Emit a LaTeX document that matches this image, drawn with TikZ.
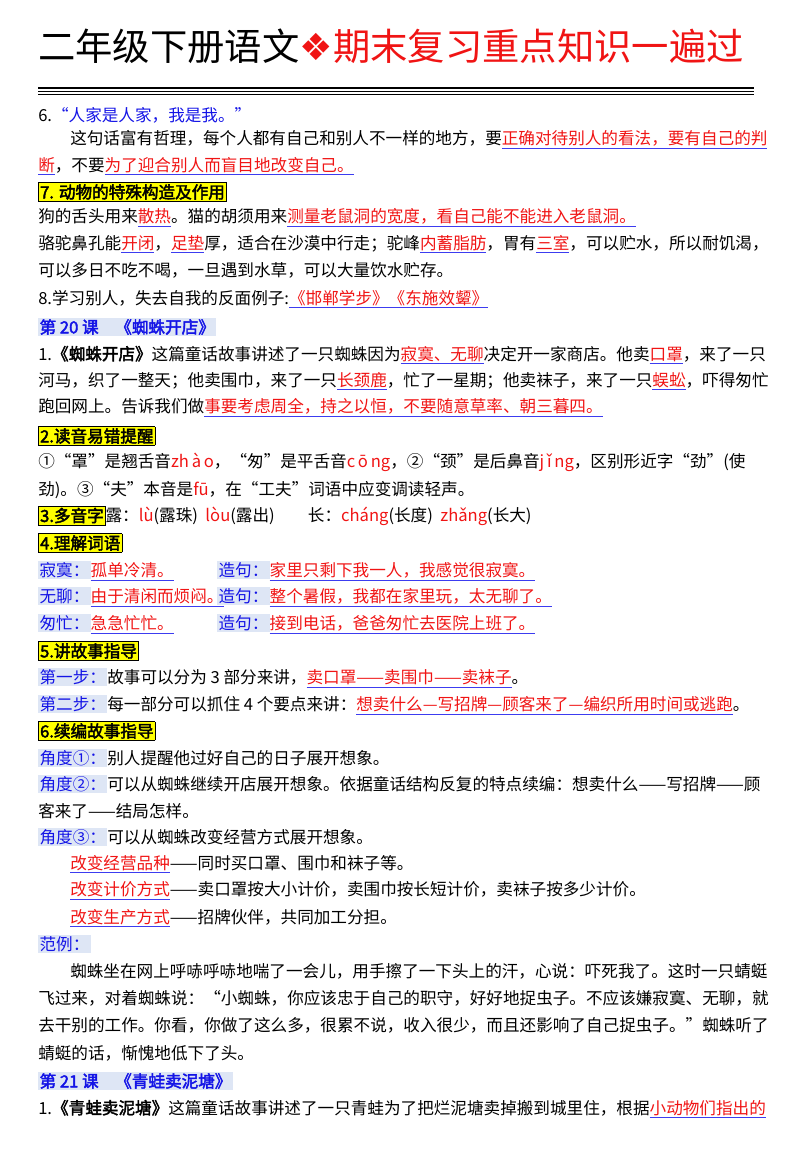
\documentclass[tikz,border=0pt]{standalone}
\usepackage{fontspec}
\setmainfont{Noto Sans CJK SC}[AutoFakeBold=2.5]
\newfontfamily\symf{DejaVu Sans}
\definecolor{ulblue}{RGB}{60,60,240}
\definecolor{tblue}{RGB}{20,20,230}
\definecolor{tred}{RGB}{240,20,20}
\definecolor{lbg}{RGB}{222,230,245}
\definecolor{ybg}{RGB}{255,255,0}
\newcommand\hl[1]{\textcolor{ulblue}{\underline{\textcolor{tred}{#1}}}}
\newcommand\rd[1]{\textcolor{tred}{#1}}
\newcommand\bl[1]{\textcolor{tblue}{#1}}
\newcommand\yb[1]{{\setlength\fboxsep{1pt}\fcolorbox{black}{ybg}{\bfseries #1}}}
\newcommand\lb[1]{{\setlength\fboxsep{1pt}\colorbox{lbg}{\textcolor{tblue}{#1}}}}
\tikzset{ln/.style={anchor=west,inner sep=0pt,font=\fontsize{12.45pt}{15pt}\selectfont}}
\begin{document}
\begin{tikzpicture}[x=0.75pt,y=-0.75pt]
\useasboundingbox (0,0) rectangle (800,1159);
\node[anchor=west,inner sep=0pt,font=\fontsize{28pt}{32pt}\selectfont] (title) at (38,46) {二年级下册语文\textcolor{tred}{\symf ❖}\rd{期末复习重点知识一遍过}};
\coordinate (tl) at (38,88); \coordinate (tr) at (754,88);
\draw[line width=1.8pt] (tl) -- (tr);
\draw[line width=0.8pt] ([yshift=-2.6pt]tl) -- ([yshift=-2.6pt]tr);
\draw[line width=0.8pt] ([yshift=-4.6pt]tl) -- ([yshift=-4.6pt]tr);
\node[ln] (a1) at (38,115) {6.\bl{“人家是人家，我是我。”}};
\node[ln] (a2) at (70,140) {这句话富有哲理，每个人都有自己和别人不一样的地方，要\hl{正确对待别人的看法，要有自己的判}};
\node[ln] (a3) at (38,166) {\hl{断}，不要\hl{为了迎合别人而盲目地改变自己。}};
\node[ln] (a4) at (38,192) {\yb{7. 动物的特殊构造及作用}};
\node[ln] (a5) at (38,218) {狗的舌头用来\hl{散热}。猫的胡须用来\hl{测量老鼠洞的宽度，看自己能不能进入老鼠洞。}};
\node[ln] (a6) at (38,244) {骆驼鼻孔能\hl{开闭}，\hl{足垫}厚，适合在沙漠中行走；驼峰\hl{内蓄脂肪}，胃有\hl{三室}，可以贮水，所以耐饥渴，};
\node[ln] (a7) at (38,270) {可以多日不吃不喝，一旦遇到水草，可以大量饮水贮存。};
\node[ln] (a8) at (38,299) {8.学习别人，失去自我的反面例子:\hl{《邯郸学步》《东施效颦》}};
\node[ln] (a9) at (38,327) {\lb{\bfseries 第 20 课\quad《蜘蛛开店》}};
\node[ln] (b1) at (38,355) {1.\textbf{《蜘蛛开店》}这篇童话故事讲述了一只蜘蛛因为\hl{寂寞、无聊}决定开一家商店。他卖\hl{口罩}，来了一只};
\node[ln] (b2) at (38,381) {河马，织了一整天；他卖围巾，来了一只\hl{长颈鹿}，忙了一星期；他卖袜子，来了一只\hl{蜈蚣}，吓得匆忙};
\node[ln] (b3) at (38,408) {跑回网上。告诉我们做\hl{事要考虑周全，持之以恒，不要随意草率、朝三暮四。}};
\node[ln] (b4) at (38,436) {\yb{2.读音易错提醒}};
\node[ln] (b5) at (38,462) {①“罩”是翘舌音\rd{zh\,à\,o}，“匆”是平舌音\rd{c\,ō\,ng}，②“颈”是后鼻音\rd{j\,ǐ\,ng}，区别形近字“劲”(使};
\node[ln] (b6) at (38,490) {劲)。③“夫”本音是\rd{fū}，在“工夫”词语中应变调读轻声。};
\node[ln] (b7) at (38,516) {\yb{3.多音字}露：\rd{lù}(露珠)\ \ \rd{lòu}(露出)\qquad 长：\rd{cháng}(长度)\ \ \rd{zhǎng}(长大)};
\node[ln] (b8) at (38,543) {\yb{4.理解词语}};
\node[ln] (c1) at (38,571) {\lb{寂寞：}\hl{孤单冷清。}};
\node[ln] (c2) at (217,571) {\lb{造句：}\hl{家里只剩下我一人，我感觉很寂寞。}};
\node[ln] (c3) at (38,597) {\lb{无聊：}\hl{由于清闲而烦闷。}};
\node[ln] (c4) at (217,597) {\lb{造句：}\hl{整个暑假，我都在家里玩，太无聊了。}};
\node[ln] (c5) at (38,624) {\lb{匆忙：}\hl{急急忙忙。}};
\node[ln] (c6) at (217,624) {\lb{造句：}\hl{接到电话，爸爸匆忙去医院上班了。}};
\node[ln] (c7) at (38,651) {\yb{5.讲故事指导}};
\node[ln] (c8) at (38,678) {\lb{第一步：}故事可以分为 3 部分来讲，\hl{卖口罩——卖围巾——卖袜子}。};
\node[ln] (c9) at (38,705) {\lb{第二步：}每一部分可以抓住 4 个要点来讲：\hl{想卖什么—写招牌—顾客来了—编织所用时间或逃跑}。};
\node[ln] (d1) at (38,731) {\yb{6.续编故事指导}};
\node[ln] (d2) at (38,758) {\lb{角度①：}别人提醒他过好自己的日子展开想象。};
\node[ln] (d3) at (38,784) {\lb{角度②：}可以从蜘蛛继续开店展开想象。依据童话结构反复的特点续编：想卖什么——写招牌——顾};
\node[ln] (d4) at (38,811) {客来了——结局怎样。};
\node[ln] (d5) at (38,837) {\lb{角度③：}可以从蜘蛛改变经营方式展开想象。};
\node[ln] (d6) at (70,864) {\hl{改变经营品种}——同时买口罩、围巾和袜子等。};
\node[ln] (d7) at (70,891) {\hl{改变计价方式}——卖口罩按大小计价，卖围巾按长短计价，卖袜子按多少计价。};
\node[ln] (d8) at (70,918) {\hl{改变生产方式}——招牌伙伴，共同加工分担。};
\node[ln] (d9) at (38,944) {\lb{范例：}};
\node[ln] (e1) at (70,971) {蜘蛛坐在网上呼哧呼哧地喘了一会儿，用手擦了一下头上的汗，心说：吓死我了。这时一只蜻蜓};
\node[ln] (e2) at (38,998) {飞过来，对着蜘蛛说：“小蜘蛛，你应该忠于自己的职守，好好地捉虫子。不应该嫌寂寞、无聊，就};
\node[ln] (e3) at (38,1025) {去干别的工作。你看，你做了这么多，很累不说，收入很少，而且还影响了自己捉虫子。”蜘蛛听了};
\node[ln] (e4) at (38,1053) {蜻蜓的话，惭愧地低下了头。};
\node[ln] (e5) at (38,1081) {\lb{\bfseries 第 21 课\quad《青蛙卖泥塘》}};
\node[ln] (e6) at (38,1109) {1.\textbf{《青蛙卖泥塘》}这篇童话故事讲述了一只青蛙为了把烂泥塘卖掉搬到城里住，根据\hl{小动物们指出的}};
\end{tikzpicture}
\end{document}
